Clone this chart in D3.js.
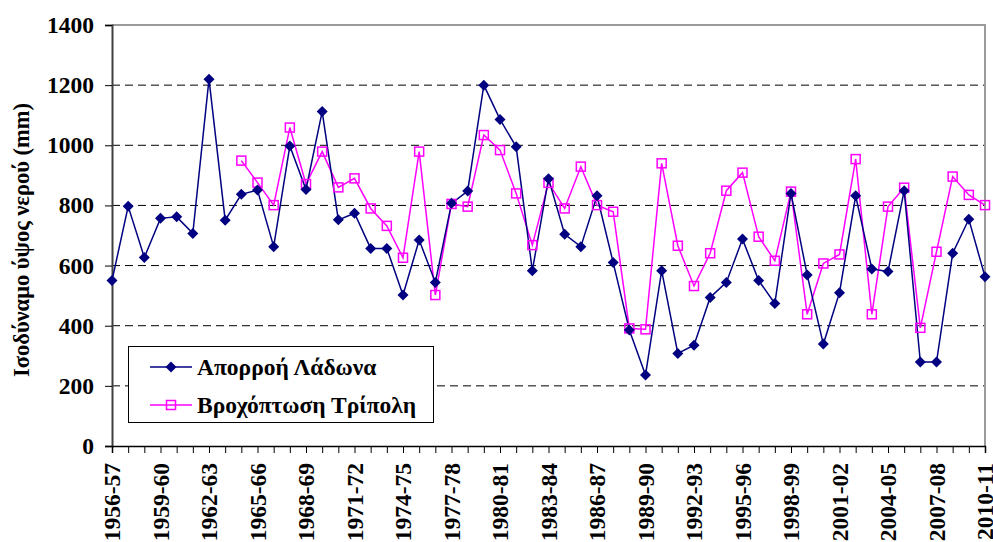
<!DOCTYPE html>
<html><head><meta charset="utf-8">
<script src="https://cdn.jsdelivr.net/npm/d3@7/dist/d3.min.js"></script>
<style>
body{margin:0;background:#fff;}
text{font-family:"Liberation Serif","Times New Roman",serif;font-weight:bold;fill:#000;}
</style></head><body>
<svg id="c" width="993" height="542"></svg>
<script>
const years = d3.range(1956, 2011).map(y => y + "-" + String((y + 1) % 100).padStart(2, "0"));
const ladonas = [550,797,627,757,762,707,1220,751,837,851,663,998,853,1112,752,774,657,657,502,685,544,807,848,1200,1086,995,583,889,704,663,832,610,386,236,583,308,335,494,544,688,550,474,840,569,339,510,832,589,580,849,279,279,641,754,563];
const tripoli = [null,null,null,null,null,null,null,null,949,876,801,1059,871,979,860,890,790,732,626,979,502,805,796,1034,984,840,668,875,790,929,801,779,391,388,940,666,532,641,849,909,696,616,846,438,607,637,954,438,796,859,393,646,896,835,801];
const yTicks = [0,200,400,600,800,1000,1200,1400];
const seriesNames = ["Απορροή Λάδωνα","Βροχόπτωση Τρίπολη"];
const yTitle = "Ισοδύναμο ύψος νερού (mm)";

const svg = d3.select("#c");
const L = 112, R = 985, T = 25, B = 446;
const FS = "23.5px";
const x = d3.scalePoint().domain(years).range([L, R]);
const y = d3.scaleLinear().domain([0, 1400]).range([B, T]);

// gridlines
svg.append("g").selectAll("line").data(yTicks.filter(v => v > 0 && v < 1400)).join("line")
  .attr("x1", L).attr("x2", R).attr("y1", d => y(d)).attr("y2", d => y(d))
  .attr("stroke", "#000").attr("stroke-width", 1).attr("stroke-dasharray", "8,5");
// plot border top/right
svg.append("path").attr("d", `M${L},${T}H${R}V${B}`).attr("fill", "none").attr("stroke", "#9a9a9a").attr("stroke-width", 2);

// y axis
const ya = svg.append("g").attr("transform", `translate(${L},0)`)
  .call(d3.axisLeft(y).tickValues(yTicks).tickSize(7).tickPadding(11).tickFormat(d3.format("d")));
ya.select(".domain").attr("stroke", "#404040").attr("stroke-width", 2);
ya.selectAll(".tick line").attr("stroke", "#000");
ya.selectAll("text").style("font-size", FS).style("font-family", "Liberation Serif").style("font-weight", "bold").attr("fill", "#000");

// x axis
const xa = svg.append("g").attr("transform", `translate(0,${B})`)
  .call(d3.axisBottom(x).tickSize(7).tickFormat((d, i) => i % 3 === 0 ? d : ""));
xa.select(".domain").attr("stroke", "#000").attr("stroke-width", 1.5);
xa.selectAll(".tick line").attr("stroke", "#000");
xa.selectAll("text").style("font-size", FS).style("font-family", "Liberation Serif").style("font-weight", "bold").attr("fill", "#000")
  .attr("transform", "rotate(-90)").attr("text-anchor", "end").attr("dy", "0.33em").attr("x", -17).attr("y", 0);

// lines
const line = d3.line().defined(d => d[1] != null).x(d => x(d[0])).y(d => y(d[1]));
const s1 = years.map((yr, i) => [yr, ladonas[i]]);
const s2 = years.map((yr, i) => [yr, tripoli[i]]);
svg.append("path").attr("d", line(s2)).attr("fill", "none").attr("stroke", "#FF00FF").attr("stroke-width", 1.5);
svg.append("path").attr("d", line(s1)).attr("fill", "none").attr("stroke", "#000080").attr("stroke-width", 1.5);

const diamond = (cx, cy, r) => `M${cx},${cy - r}L${cx + r},${cy}L${cx},${cy + r}L${cx - r},${cy}Z`;
svg.append("g").selectAll("rect").data(s2.filter(d => d[1] != null)).join("rect")
  .attr("x", d => x(d[0]) - 4.5).attr("y", d => y(d[1]) - 4.5).attr("width", 9).attr("height", 9)
  .attr("fill", "none").attr("stroke", "#FF00FF").attr("stroke-width", 1.5);
svg.append("g").selectAll("path").data(s1).join("path")
  .attr("d", d => diamond(x(d[0]), y(d[1]), 5.5)).attr("fill", "#000080");

// y title
svg.append("text").attr("transform", `translate(29,240) rotate(-90)`)
  .attr("text-anchor", "middle").style("font-size", "22.5px").text(yTitle);

// legend
const lg = svg.append("g");
lg.append("rect").attr("x", 128.5).attr("y", 346.5).attr("width", 305).attr("height", 76)
  .attr("fill", "#fff").attr("stroke", "#000").attr("stroke-width", 1);
const ly = [367, 405];
lg.append("line").attr("x1", 150).attr("x2", 192).attr("y1", ly[0]).attr("y2", ly[0]).attr("stroke", "#000080").attr("stroke-width", 1.5);
lg.append("path").attr("d", diamond(171, ly[0], 5.5)).attr("fill", "#000080");
lg.append("line").attr("x1", 150).attr("x2", 192).attr("y1", ly[1]).attr("y2", ly[1]).attr("stroke", "#FF00FF").attr("stroke-width", 1.5);
lg.append("rect").attr("x", 166.5).attr("y", ly[1] - 4.5).attr("width", 9).attr("height", 9).attr("fill", "none").attr("stroke", "#FF00FF").attr("stroke-width", 1.5);
seriesNames.forEach((n, i) => lg.append("text").attr("x", 197).attr("y", ly[i]).attr("dy", "0.35em").style("font-size", FS).text(n));
</script></body></html>
